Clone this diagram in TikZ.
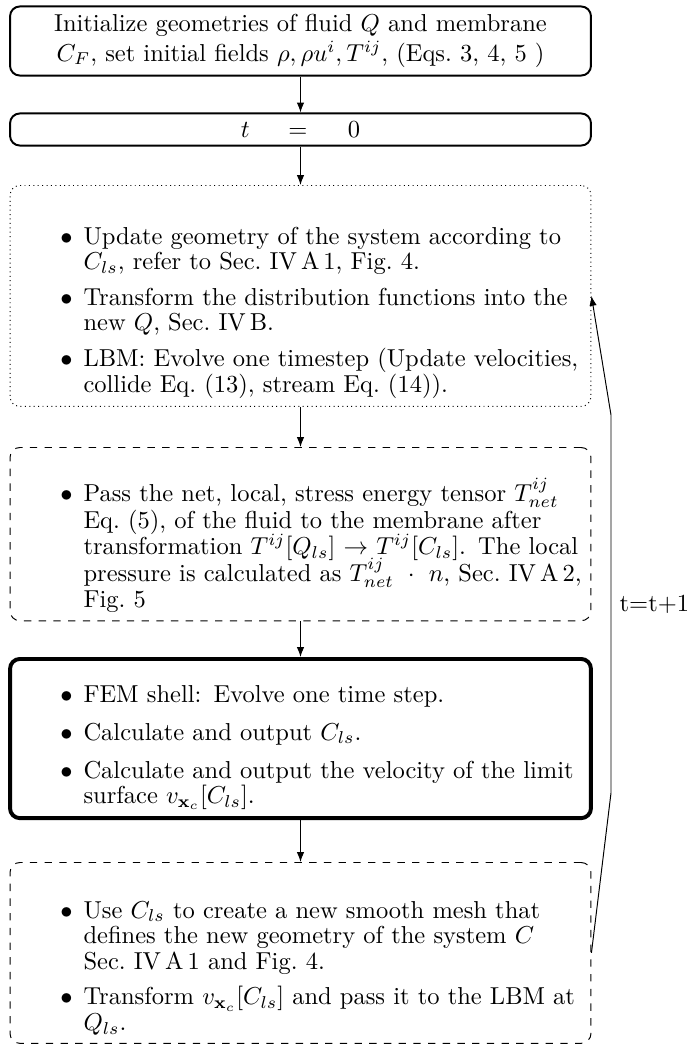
\documentclass[tikz,border=0pt]{standalone}
\usetikzlibrary{arrows.meta}
\newcommand{\bitem}[1]{\par\noindent\hangindent=30pt\hangafter=0 \llap{$\bullet$\hspace{4.5pt}}#1\par}
\newcommand{\igap}{\vskip 4.2pt}
\newcommand{\lsetup}[2][10.4pt]{\vspace*{#2}\baselineskip=#1\lineskiplimit=-100pt\rightskip=1pt plus 2em\relax}
\tikzset{
  basebox/.style={draw, rounded corners=4pt, minimum width=237.1pt, inner ysep=3.33pt},
  headbox/.style={basebox, thick, text width=208pt, align=center},
  timebox/.style={basebox, thick},
  listbox/.style={basebox, text width=237.1pt, inner xsep=0pt, anchor=north},
  finedots/.style={dash pattern=on 0.4pt off 1.4pt},
  arr/.style={-{Latex[length=4pt,width=3pt]}, thin}
}
\begin{document}
\begin{tikzpicture}[x=0.408163pt, y=-0.408163pt]
\useasboundingbox (0,0) rectangle (687,1049);
\node[headbox] (init) at (300.5,41) {\baselineskip=11.5pt Initialize geometries of fluid $Q$ and membrane $C_F$, set initial fields $\rho, \rho u^i, T^{ij}$, (Eqs.\ 3, 4, 5 )};
\node[timebox] (tzero) at (300.5,129.5) {$t\hspace{13pt}=\hspace{13.7pt}0$};
\node[listbox, finedots] (lbm) at (300.5,185) {\lsetup{10.2pt}
  \bitem{Update geometry of the system according to $C_{ls}$, refer to Sec.~IV\,A\,1, Fig.~4.}\igap
  \bitem{Transform the distribution functions into the new $Q$, Sec.~IV\,B.}\igap
  \bitem{LBM: Evolve one timestep (Update velocities, collide Eq.~(13), stream Eq.~(14)).}\vspace*{1pt}};
\node[listbox, dashed] (pass) at (300.5,447) {\lsetup[10.8pt]{8pt}
  \bitem{Pass the net, local, stress energy tensor $T^{ij}_{net}$ Eq.~(5), of the fluid to the membrane after transformation $T^{ij}[Q_{ls}]\rightarrow T^{ij}[C_{ls}]$. The local pressure is calculated as $T^{ij}_{net}\ \cdot\ n$, Sec.~IV\,A\,2, Fig.~5}};
\node[listbox, ultra thick] (fem) at (300.5,657) {\lsetup{4pt}
  \bitem{FEM shell: Evolve one time step.}\vskip 5pt
  \bitem{Calculate and output $C_{ls}$.}\vskip 5.2pt
  \bitem{Calculate and output the velocity of the limit surface $v_{\mathbf{x}_c}[C_{ls}]$.}\vspace*{7.5pt}};
\node[listbox, dashed] (mesh) at (300.5,862) {\lsetup{9pt}
  \bitem{Use $C_{ls}$ to create a new smooth mesh that defines the new geometry of the system $C$ Sec.~IV\,A\,1 and Fig.~4.}\igap
  \bitem{Transform $v_{\mathbf{x}_c}[C_{ls}]$ and pass it to the LBM at $Q_{ls}$.}\vspace*{3pt}};
\draw[arr] (init) -- (tzero);
\draw[arr] (tzero) -- (lbm);
\draw[arr] (lbm) -- (pass);
\draw[arr] (pass) -- (fem);
\draw[arr] (fem) -- (mesh);
\coordinate (k1) at (611,793);
\coordinate (k2) at (611,415);
\draw[arr] (mesh.east) -- (k1) -- node[right] {t=t+1} (k2) -- (lbm.east);
\end{tikzpicture}
\end{document}
